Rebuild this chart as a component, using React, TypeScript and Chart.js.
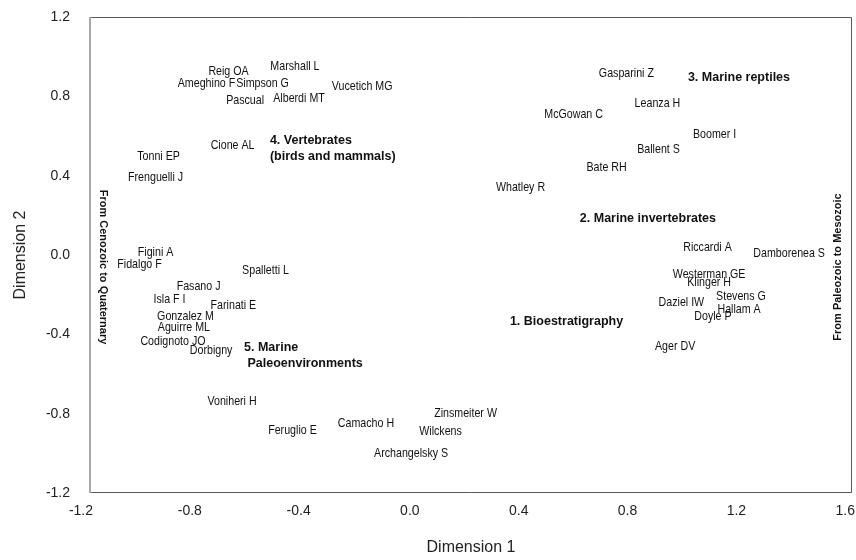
import React, { useEffect, useRef } from "react";
import { Chart, registerables } from "chart.js";

Chart.register(...registerables);

const authors = [
  "Reig OA", "Marshall L", "Ameghino F", "Simpson G", "Vucetich MG", "Pascual", "Alberdi MT",
  "Cione AL", "Tonni EP", "Frenguelli J",
  "Gasparini Z", "Leanza H", "McGowan C", "Boomer I", "Ballent S", "Bate RH", "Whatley R",
  "Figini A", "Fidalgo F", "Spalletti L", "Fasano J", "Isla F I", "Farinati E", "Gonzalez M",
  "Aguirre ML", "Codignoto JO", "Dorbigny",
  "Riccardi A", "Damborenea S", "Westerman GE", "Klinger H", "Stevens G", "Daziel IW",
  "Hallam A", "Doyle P", "Ager DV",
  "Voniheri H", "Zinsmeiter W", "Camacho H", "Feruglio E", "Wilckens", "Archangelsky S",
];
const authorDim1 = [
  -0.691, -0.447, -0.772, -0.566, -0.2, -0.63, -0.432,
  -0.676, -0.948, -0.959,
  0.771, 0.885, 0.577, 1.095, 0.889, 0.698, 0.382,
  -0.959, -1.018, -0.555, -0.801, -0.908, -0.673, -0.849,
  -0.855, -0.895, -0.755,
  1.069, 1.369, 1.075, 1.075, 1.192, 0.973,
  1.185, 1.089, 0.95,
  -0.678, 0.18, -0.186, -0.456, 0.088, -0.02,
];
const authorDim2 = [
  0.925, 0.949, 0.867, 0.867, 0.849, 0.777, 0.787,
  0.55, 0.499, 0.391,
  0.916, 0.766, 0.711, 0.607, 0.534, 0.444, 0.343,
  0.013, -0.045, -0.076, -0.156, -0.224, -0.252, -0.308,
  -0.363, -0.434, -0.479,
  0.038, 0.01, -0.096, -0.136, -0.207, -0.237,
  -0.272, -0.308, -0.459,
  -0.736, -0.797, -0.847, -0.882, -0.892, -0.998,
];

const groupLabels = [
  ["4. Vertebrates", "(birds and mammals)"],
  ["3. Marine reptiles"],
  ["2. Marine invertebrates"],
  ["1. Bioestratigraphy"],
  ["5. Marine", " Paleoenvironments"],
];
const groupDim1 = [-0.539, 0.997, 0.6, 0.343, -0.634];
const groupDim2 = [0.575, 0.897, 0.182, -0.338, -0.466];

const xTicks = [-1.2, -0.8, -0.4, 0.0, 0.4, 0.8, 1.2, 1.6];
const yTicks = [-1.2, -0.8, -0.4, 0.0, 0.4, 0.8, 1.2];
const xAxisTitle = "Dimension 1";
const yAxisTitle = "Dimension 2";
const leftNote = "From Cenozoic to Quaternary";
const rightNote = "From Paleozoic to Mesozoic";

const FONT = "'Liberation Sans', Arial, sans-serif";

const textPlugin = {
  id: "pointText",
  afterDatasetsDraw(chart: any) {
    const ctx = chart.ctx as CanvasRenderingContext2D;
    chart.data.datasets.forEach((ds: any, di: number) => {
      const meta = chart.getDatasetMeta(di);
      meta.data.forEach((el: any, i: number) => {
        const { x, y } = el.getProps(["x", "y"], true);
        ctx.save();
        ctx.fillStyle = "#111";
        ctx.textBaseline = "middle";
        if (ds.kind === "author") {
          ctx.font = `13px ${FONT}`;
          ctx.textAlign = "center";
          ctx.translate(x, y);
          ctx.scale(0.82, 1);
          ctx.fillText(ds.texts[i], 0, 0);
        } else {
          ctx.font = `bold 12.5px ${FONT}`;
          ctx.textAlign = "left";
          const lines: string[] = ds.texts[i];
          lines.forEach((ln, k) => ctx.fillText(ln, x, y + k * 16));
        }
        ctx.restore();
      });
    });
  },
  afterDraw(chart: any) {
    const ctx = chart.ctx as CanvasRenderingContext2D;
    const a = chart.chartArea;
    ctx.save();
    ctx.lineWidth = 1;
    ctx.strokeStyle = "#5a5a5a";
    ctx.beginPath();
    ctx.moveTo(a.left, a.top + 0.5);
    ctx.lineTo(a.right - 0.5, a.top + 0.5);
    ctx.lineTo(a.right - 0.5, a.bottom - 0.5);
    ctx.lineTo(a.left, a.bottom - 0.5);
    ctx.stroke();
    ctx.strokeStyle = "#a8a8a8";
    ctx.lineWidth = 2;
    ctx.beginPath();
    ctx.moveTo(a.left, a.top);
    ctx.lineTo(a.left, a.bottom);
    ctx.stroke();

    ctx.fillStyle = "#111";
    ctx.font = `bold 11px ${FONT}`;
    ctx.textAlign = "center";
    ctx.textBaseline = "middle";
    const cy = (a.top + a.bottom) / 2 + 12;
    ctx.save();
    ctx.translate(a.left + 13, cy);
    ctx.rotate(Math.PI / 2);
    ctx.fillText(leftNote, 0, 0);
    ctx.restore();
    ctx.save();
    ctx.translate(a.right - 14, cy);
    ctx.rotate(-Math.PI / 2);
    ctx.fillText(rightNote, 0, 0);
    ctx.restore();
    ctx.restore();
  },
};

export default function App() {
  const ref = useRef<HTMLCanvasElement>(null);
  useEffect(() => {
    if (!ref.current) return;
    const chart = new Chart(ref.current, {
      type: "scatter",
      data: {
        datasets: [
          {
            kind: "author",
            texts: authors,
            data: authors.map((_, i) => ({ x: authorDim1[i], y: authorDim2[i] })),
            pointRadius: 0,
            pointHoverRadius: 0,
          } as any,
          {
            kind: "group",
            texts: groupLabels,
            data: groupLabels.map((_, i) => ({ x: groupDim1[i], y: groupDim2[i] })),
            pointRadius: 0,
            pointHoverRadius: 0,
          } as any,
        ],
      },
      options: {
        responsive: false,
        animation: false,
        events: [],
        layout: { padding: { top: 17, right: 4, left: 0, bottom: 0 } },
        plugins: { legend: { display: false }, tooltip: { enabled: false } },
        scales: {
          x: {
            type: "linear",
            min: -1.2,
            max: 1.6,
            afterBuildTicks: (s: any) => {
              s.ticks = xTicks.map((v) => ({ value: v }));
            },
            afterFit: (s: any) => {
              s.height = 67;
              s.paddingLeft = 0;
              s.paddingRight = 0;
            },
            grid: { display: false, drawTicks: false },
            border: { display: false },
            ticks: {
              align: "end",
              labelOffset: 3,
              padding: 10,
              color: "#222",
              font: { family: FONT, size: 14 },
              callback: (v: any) => Number(v).toFixed(1),
            },
            title: {
              display: true,
              text: xAxisTitle,
              color: "#222",
              font: { family: FONT, size: 16 },
              padding: { top: 0, bottom: 3 },
            },
          },
          y: {
            type: "linear",
            min: -1.2,
            max: 1.2,
            afterBuildTicks: (s: any) => {
              s.ticks = yTicks.map((v) => ({ value: v }));
            },
            afterFit: (s: any) => {
              s.width = 90;
              s.paddingTop = 0;
              s.paddingBottom = 0;
            },
            grid: { display: false, drawTicks: false },
            border: { display: false },
            ticks: {
              padding: 20,
              color: "#222",
              font: { family: FONT, size: 14 },
              callback: (v: any) => Number(v).toFixed(1),
            },
            title: {
              display: true,
              text: yAxisTitle,
              color: "#222",
              font: { family: FONT, size: 16 },
              padding: { top: 11, bottom: 0 },
            },
          },
        },
      },
      plugins: [textPlugin],
    });
    return () => chart.destroy();
  }, []);
  return (
    <div style={{ position: "fixed", left: 0, top: 0, width: 856, height: 560, background: "#fff" }}>
      <canvas ref={ref} width={856} height={560} />
    </div>
  );
}
